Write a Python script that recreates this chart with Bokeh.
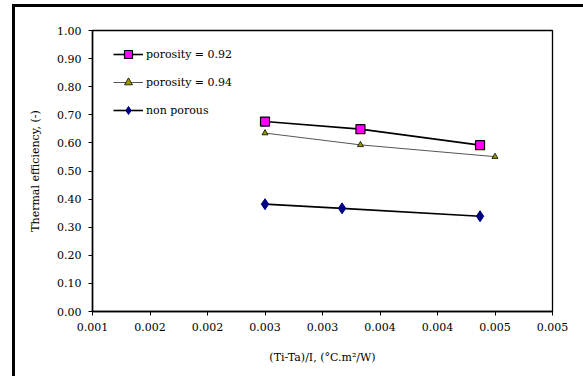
from bokeh.plotting import figure
from bokeh.models import FixedTicker, Legend, LegendItem, Range1d
from bokeh.embed import file_html
from bokeh.resources import INLINE

# Thermal efficiency against reduced temperature parameter
x_p92 = [0.0025, 0.00333, 0.00437]
eff_p92 = [0.676, 0.649, 0.592]

x_p94 = [0.0025, 0.00333, 0.0045]
eff_p94 = [0.635, 0.593, 0.551]

x_np = [0.0025, 0.00317, 0.00437]
eff_np = [0.382, 0.367, 0.339]

series_names = ["porosity = 0.92", "porosity = 0.94", "non porous"]

x_ticks = [0.001, 0.0015, 0.002, 0.0025, 0.003, 0.0035, 0.004, 0.0045, 0.005]
x_tick_labels = ["0.001", "0.002", "0.002", "0.003", "0.003", "0.004", "0.004", "0.005", "0.005"]
y_ticks = [0.0, 0.1, 0.2, 0.3, 0.4, 0.5, 0.6, 0.7, 0.8, 0.9, 1.0]
y_tick_labels = ["0.00", "0.10", "0.20", "0.30", "0.40", "0.50", "0.60", "0.70", "0.80", "0.90", "1.00"]

FONT = "DejaVu Serif"

# chart area: black frame line on the top and left of the canvas
p = figure(width=568, height=369, output_backend="svg", toolbar_location=None,
           x_range=Range1d(0.001, 0.005), y_range=Range1d(0.0, 1.0),
           frame_width=460, frame_height=281,
           min_border_left=77, min_border_right=31, min_border_top=23, min_border_bottom=65,
           styles={"margin-left": "12px", "margin-top": "4px",
                   "border-left": "3px solid black", "border-top": "3px solid black"})
p.background_fill_color = "white"
p.border_fill_color = "white"
p.outline_line_color = "black"
p.outline_line_width = 1.3
p.grid.visible = False

# axes
for ax in (p.xaxis[0], p.yaxis[0]):
    ax.axis_line_color = "black"
    ax.axis_line_width = 1.5
    ax.major_tick_line_color = "black"
    ax.major_tick_in = 0
    ax.major_tick_out = 4
    ax.minor_tick_line_color = None
    ax.major_label_text_font = FONT
    ax.major_label_text_font_size = "11px"
    ax.major_label_text_color = "black"
    ax.axis_label_text_font = FONT
    ax.axis_label_text_font_size = "11px"
    ax.axis_label_text_font_style = "normal"
    ax.axis_label_text_color = "black"

p.xaxis.ticker = FixedTicker(ticks=x_ticks)
p.xaxis.major_label_overrides = dict(zip(x_ticks, x_tick_labels))
p.xaxis.major_label_standoff = 7
p.xaxis.axis_label = "(Ti-Ta)/I, (\u00b0C.m\u00b2/W)"
p.xaxis.axis_label_standoff = 17

p.yaxis.ticker = FixedTicker(ticks=y_ticks)
p.yaxis.major_label_overrides = dict(zip(y_ticks, y_tick_labels))
p.yaxis.major_label_standoff = 7
p.yaxis.axis_label = "Thermal efficiency, (-)"
p.yaxis.axis_label_standoff = 12

# series
l1 = p.line(x_p92, eff_p92, line_color="black", line_width=1.6)
m1 = p.scatter(x_p92, eff_p92, marker="square", size=9, fill_color="#ff00ff",
               line_color="black", line_width=1.2)

l2 = p.line(x_p94, eff_p94, line_color="#555555", line_width=1.0)
m2 = p.scatter(x_p94, eff_p94, marker="triangle", size=6, fill_color="#999900",
               line_color="black", line_width=0.8)

l3 = p.line(x_np, eff_np, line_color="black", line_width=1.6)
m3 = p.scatter(x_np, eff_np, marker="diamond", size=11, fill_color="#000080",
               line_color="#000080", line_width=1)

legend = Legend(items=[
    LegendItem(label=series_names[0], renderers=[l1, m1]),
    LegendItem(label=series_names[1], renderers=[l2, m2]),
    LegendItem(label=series_names[2], renderers=[l3, m3]),
], location=(21, 191), orientation="vertical")
legend.border_line_color = None
legend.background_fill_alpha = 0
legend.padding = 0
legend.margin = 0
legend.spacing = 8
legend.glyph_width = 30
legend.glyph_height = 20
legend.label_standoff = 3
legend.label_text_font = FONT
legend.label_text_font_size = "11px"
legend.label_text_color = "black"
p.add_layout(legend, "center")

open("out.html", "w").write(file_html(p, INLINE))
